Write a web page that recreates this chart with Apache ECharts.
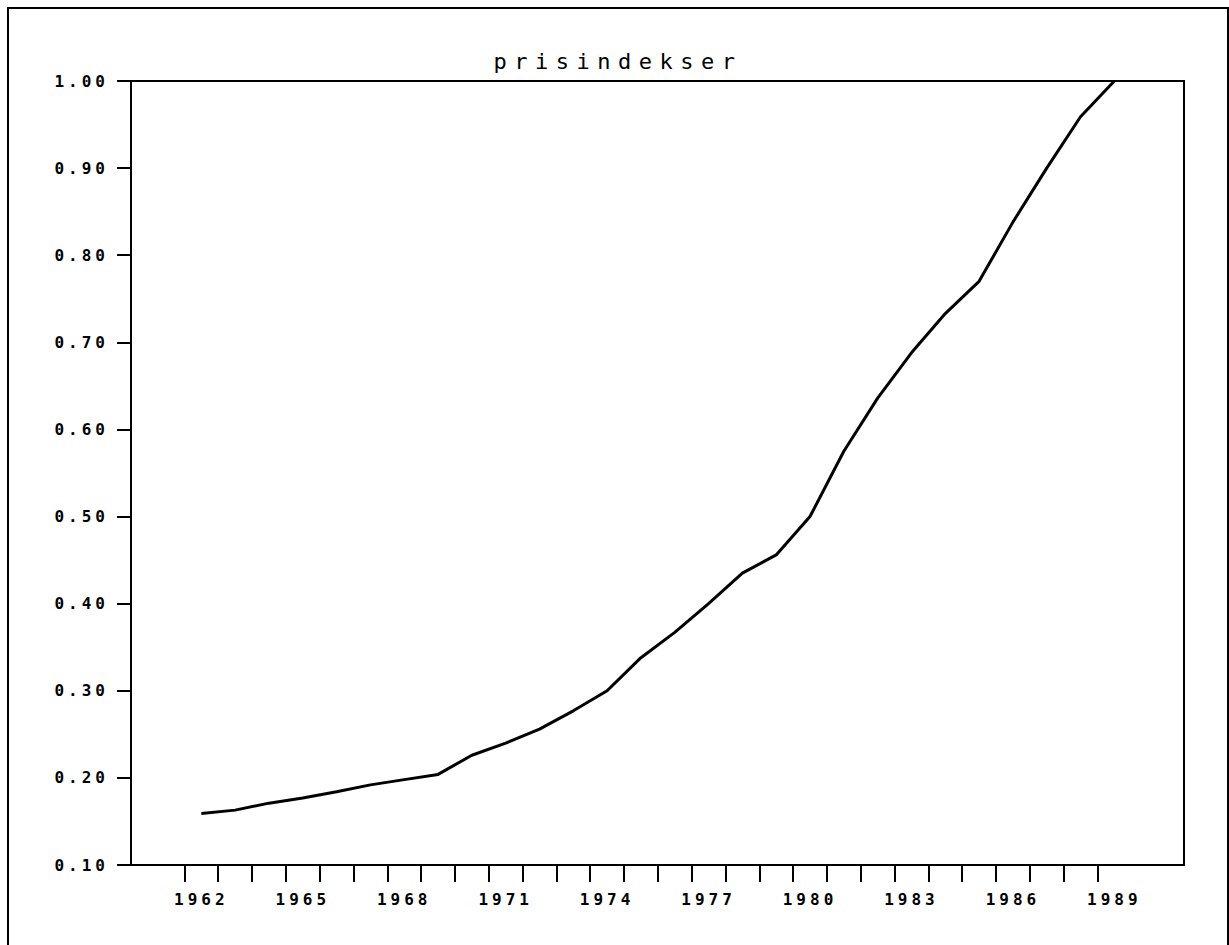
<!DOCTYPE html>
<html>
<head>
<meta charset="utf-8">
<script src="https://cdn.jsdelivr.net/npm/echarts@6/dist/echarts.min.js"></script>
<style>
  html, body { margin: 0; padding: 0; background: #fff; }
  #chart { width: 1229px; height: 945px; }
  /* wide plotter-style lettering */
  #chart svg text { letter-spacing: 4px; }
  #chart svg text[style*="22px"] { letter-spacing: 7.5px; }
</style>
</head>
<body>
<div id="chart"></div>
<script>
// Annual price index, 1989 = 1.00
const years = [1962, 1963, 1964, 1965, 1966, 1967, 1968, 1969, 1970, 1971,
               1972, 1973, 1974, 1975, 1976, 1977, 1978, 1979, 1980, 1981,
               1982, 1983, 1984, 1985, 1986, 1987, 1988, 1989];
const prices = [0.159, 0.163, 0.171, 0.177, 0.184, 0.192, 0.198, 0.204, 0.226, 0.240,
                0.256, 0.277, 0.300, 0.338, 0.367, 0.400, 0.435, 0.456, 0.500, 0.575,
                0.636, 0.688, 0.733, 0.770, 0.838, 0.900, 0.959, 1.000];
// one tick at the start of every year, a label every third year
const tickYears = years.slice();
const labelYears = [1962, 1965, 1968, 1971, 1974, 1977, 1980, 1983, 1986, 1989];
const titleText = 'prisindekser';

const chart = echarts.init(document.getElementById('chart'), null, { renderer: 'svg' });

const labelFont = {
  color: '#000',
  fontFamily: '"DejaVu Sans Mono", monospace',
  fontWeight: 'bold',
  fontSize: 16
};

chart.setOption({
  backgroundColor: '#fff',
  animation: false,
  title: {
    text: titleText,
    left: 613,
    textAlign: 'center',
    top: 45,
    textStyle: {
      color: '#000',
      fontFamily: '"DejaVu Sans Mono", monospace',
      fontWeight: 'normal',
      fontSize: 22
    }
  },
  grid: {
    left: 131, top: 81, right: 45, bottom: 80,
    show: true,
    borderColor: '#000',
    borderWidth: 2,
    backgroundColor: 'transparent'
  },
  xAxis: {
    type: 'value',
    min: 1960.42,
    max: 1991.56,
    axisLine: { show: true, onZero: false, lineStyle: { color: '#000', width: 2 } },
    axisTick: {
      show: true,
      inside: false,
      length: 17,
      customValues: tickYears,
      lineStyle: { color: '#000', width: 2 }
    },
    axisLabel: {
      show: true,
      margin: 26,
      customValues: labelYears.map(y => y + 0.5),
      formatter: v => String(Math.floor(v)),
      ...labelFont
    },
    splitLine: { show: false }
  },
  yAxis: {
    type: 'value',
    min: 0.1,
    max: 1.0,
    interval: 0.1,
    axisLine: { show: true, lineStyle: { color: '#000', width: 2 } },
    axisTick: { show: true, inside: false, length: 14, lineStyle: { color: '#000', width: 2 } },
    axisLabel: {
      margin: 22,
      formatter: v => v.toFixed(2),
      ...labelFont
    },
    splitLine: { show: false }
  },
  graphic: [{
    type: 'rect',
    silent: true,
    shape: { x: 8, y: 8, width: 1220, height: 1000 },
    style: { fill: 'none', stroke: '#000', lineWidth: 2 }
  }],
  series: [{
    type: 'line',
    data: years.map((y, i) => [y + 0.5, prices[i]]),
    symbol: 'none',
    lineStyle: { color: '#000', width: 3 },
    clip: true
  }]
});
</script>
</body>
</html>
